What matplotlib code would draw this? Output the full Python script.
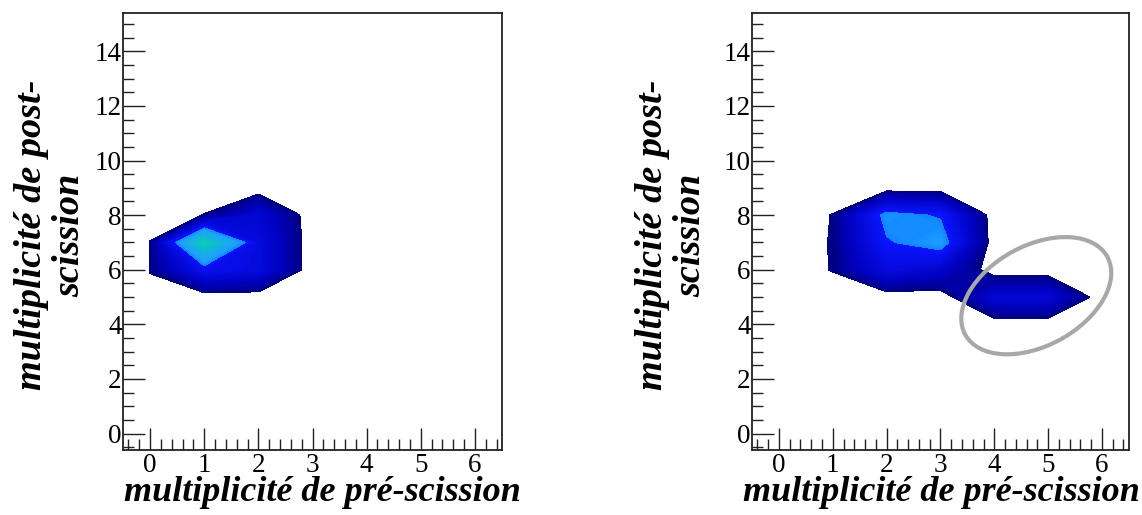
"""Two ROOT-style contour maps: post- vs pre-scission multiplicity."""

import matplotlib
matplotlib.use("Agg")
import matplotlib.pyplot as plt
import numpy as np
from matplotlib.colors import LinearSegmentedColormap, Normalize
from matplotlib.patches import Ellipse
from matplotlib.ticker import MultipleLocator
from matplotlib.transforms import Affine2D

# bin centres
x_bins = np.arange(0, 7)
y_bins = np.arange(0, 16)

# left map: non-empty rows (y = 6, 7, 8), columns x = 0..6
left_y6 = [1.15, 6.0, 5.0, 0, 0, 0, 0]
left_y7 = [1.05, 14.0, 5.0, 0, 0, 0, 0]
left_y8 = [0, 1.05, 4.2, 0, 0, 0, 0]

# right map: non-empty rows (y = 5, 6, 7, 8)
right_y5 = [0, 0, 0, 0, 4.3, 4.3, 0]
right_y6 = [0, 1.08, 5.0, 3.8, 0, 0, 0]
right_y7 = [0, 1.1, 7.0, 8.5, 0, 0, 0]
right_y8 = [0, 1.05, 8.0, 7.0, 0, 0, 0]

x_title = "multiplicité de pré-scission"
y_title = "multiplicité de post-\nscission"


def build_grid(rows: dict[int, list[float]]) -> np.ndarray:
    z = np.zeros((len(y_bins), len(x_bins)))
    for y, vals in rows.items():
        z[y, :] = vals
    return z


z_left = build_grid({6: left_y6, 7: left_y7, 8: left_y8})
z_right = build_grid({5: right_y5, 6: right_y6, 7: right_y7, 8: right_y8})

zmin, zmax, zbreak = 1.0, 14.0, 7.25
p = (zbreak - zmin) / (zmax - zmin)
cmap = LinearSegmentedColormap.from_list(
    "root_blue",
    [
        (0.0, (0.0, 0.0, 0.50)),
        (0.3 * p, (0.0, 0.0, 0.74)),
        (p, (0.04, 0.08, 1.0)),
        (p + 0.002, (0.06, 0.52, 1.0)),
        ((8.5 - zmin) / (zmax - zmin), (0.12, 0.62, 1.0)),
        (1.0, (0.02, 0.80, 0.72)),
    ],
)
norm = Normalize(zmin, zmax)
levels = np.linspace(zmin, zmax, 53)

fig = plt.figure(figsize=(11.42, 5.15), dpi=100)
ax_left = fig.add_axes([0.1077, 0.1262, 0.3319, 0.8485])
ax_right = fig.add_axes([0.6585, 0.1262, 0.3300, 0.8485])

tick_font = {"family": "Liberation Serif", "size": 19.5}
x_title_font = {"family": "Liberation Serif", "size": 26, "weight": "bold", "style": "italic"}
y_title_font = {"family": "Liberation Serif", "size": 27.5, "weight": "bold", "style": "italic"}

for ax, z in [(ax_left, z_left), (ax_right, z_right)]:
    cs = ax.contourf(x_bins, y_bins, z, levels=levels, cmap=cmap, norm=norm)
    cs.set_edgecolor("face")
    cs.set_linewidth(0.4)
    ax.set_xlim(-0.5, 6.5)
    ax.set_ylim(-0.6, 15.4)
    ax.xaxis.set_major_locator(MultipleLocator(1))
    ax.xaxis.set_minor_locator(MultipleLocator(0.2))
    ax.yaxis.set_major_locator(MultipleLocator(2))
    ax.yaxis.set_minor_locator(MultipleLocator(0.5))
    ax.tick_params(which="both", direction="in", top=False, right=False, width=1.0, color="#222222")
    ax.tick_params(which="major", length=16, pad=2)
    ax.tick_params(which="minor", length=8)
    ax.tick_params(axis="y", which="major", pad=1)
    for lab in ax.get_xticklabels() + ax.get_yticklabels():
        lab.set_fontfamily(tick_font["family"])
        lab.set_fontsize(tick_font["size"])
    for spine in ax.spines.values():
        spine.set_linewidth(1.3)
        spine.set_color("#222222")

# axis titles
fig.text(322 / 1142, 1 - 501 / 515, x_title, ha="center", va="baseline", **x_title_font)
fig.text(941 / 1142, 1 - 501 / 515, x_title, ha="center", va="baseline", **x_title_font)
fig.text(51 / 1142, 1 - 235 / 515, y_title, ha="center", va="center", rotation=90,
         multialignment="center", linespacing=1.12, **y_title_font)
fig.text(672 / 1142, 1 - 235 / 515, y_title, ha="center", va="center", rotation=90,
         multialignment="center", linespacing=1.12, **y_title_font)

# grey ellipse around the tail (drawn in pixel units)
fig.canvas.draw()
bbox = ax_right.get_window_extent()
sx = bbox.width / 7.0
sy = bbox.height / 16.0
ell_center = (4.78, 5.05)
ell = Ellipse((ell_center[0] * sx, ell_center[1] * sy), 162, 100, angle=28.7,
              transform=Affine2D().scale(1 / sx, 1 / sy) + ax_right.transData,
              fill=False, edgecolor="#a8a8a8", linewidth=3.0, clip_on=False)
ax_right.add_patch(ell)

fig.savefig("out.png", dpi=100)
